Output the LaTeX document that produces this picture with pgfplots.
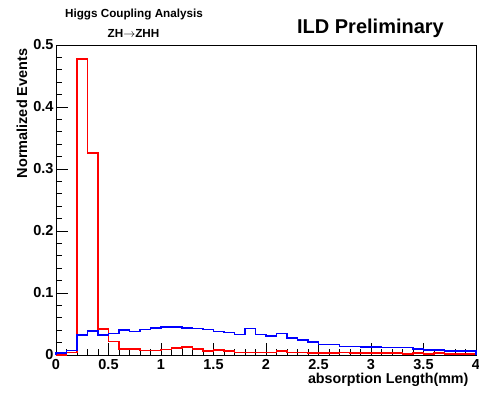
\documentclass[border=0pt]{standalone}
\usepackage{pgfplots}
\pgfplotsset{compat=1.18}
\usepackage{fontspec}
\setmainfont{Liberation Sans}
\begin{document}
\begin{tikzpicture}
\begin{axis}[
  at={(0,0)}, anchor=south west,
  scale only axis, width=420pt, height=310pt,
  xmin=0, xmax=4, ymin=0, ymax=0.5,
  xtick={0,0.5,1,1.5,2,2.5,3,3.5,4},
  xticklabels={\textbf{0},\textbf{0.5},\textbf{1},\textbf{1.5},\textbf{2},\textbf{2.5},\textbf{3},\textbf{3.5},\textbf{4}},
  ytick={0,0.1,0.2,0.3,0.4,0.5},
  yticklabels={\textbf{0},\textbf{0.1},\textbf{0.2},\textbf{0.3},\textbf{0.4},\textbf{0.5}},
  minor x tick num=4, minor y tick num=4,
  tick align=inside, xtick pos=bottom, ytick pos=left,
  major tick length=12pt, minor tick length=6pt,
  tick style={black, line width=0.7pt},
  axis line style={black, line width=0.8pt},
  /pgf/number format/assume math mode=true,
  tick label style={font=\fontsize{14.5}{16}\selectfont},
  xticklabel style={yshift=-1pt},
  yticklabel style={xshift=1pt},
  clip=false,
]
\addplot[const plot mark left, red, line width=1.6pt] coordinates {
(0,0) (0.1,0.004) (0.2,0.477) (0.3,0.326) (0.4,0.042) (0.5,0.022)
(0.6,0.010) (0.7,0.010) (0.8,0.007) (0.9,0.007) (1.0,0.009) (1.1,0.011)
(1.2,0.013) (1.3,0.0095) (1.4,0.006) (1.5,0.0085) (1.6,0.006) (1.7,0.004)
(1.8,0.004) (1.9,0.004) (2.0,0.004) (2.1,0.006) (2.2,0.004) (2.3,0.004)
(2.4,0.003) (2.5,0.003) (2.6,0.003) (2.7,0.004) (2.8,0.003) (2.9,0.003)
(3.0,0.003) (3.1,0.003) (3.2,0.003) (3.3,0.002) (3.4,0.003) (3.5,0.002)
(3.6,0.003) (3.7,0.002) (3.8,0.002) (3.9,0.002) (4.0,0.002) (4.0,0)
};
\addplot[const plot mark left, blue, line width=1.6pt] coordinates {
(0,0) (0,0.003) (0.1,0.007) (0.2,0.032) (0.3,0.039) (0.4,0.032) (0.5,0.035)
(0.6,0.040) (0.7,0.038) (0.8,0.041) (0.9,0.044) (1.0,0.045) (1.1,0.045)
(1.2,0.044) (1.3,0.043) (1.4,0.041) (1.5,0.038) (1.6,0.036) (1.7,0.033)
(1.8,0.043) (1.9,0.033) (2.0,0.031) (2.1,0.035) (2.2,0.027) (2.3,0.024)
(2.4,0.021) (2.5,0.017) (2.6,0.017) (2.7,0.014) (2.8,0.014) (2.9,0.013)
(3.0,0.013) (3.1,0.012) (3.2,0.012) (3.3,0.012) (3.4,0.010) (3.5,0.008)
(3.6,0.008) (3.7,0.006) (3.8,0.006) (3.9,0.006) (4.0,0.006) (4.0,0)
};
\end{axis}
\node[font=\fontsize{11.7}{13}\selectfont\bfseries] at (78pt,340.5pt) {Higgs Coupling Analysis};
\node[font=\fontsize{11.7}{13}\selectfont\bfseries] at (77.5pt,321.5pt) {ZH$\rightarrow$ZHH};
\node[font=\fontsize{20}{22}\selectfont\bfseries] at (314.5pt,327pt) {ILD Preliminary};
\node[font=\fontsize{14.5}{16}\selectfont\bfseries, rotate=90, anchor=east] at (-34pt,310pt) {Normalized Events};
\node[font=\fontsize{14.3}{16}\selectfont\bfseries, anchor=east] at (416pt,-25pt) {absorption Length(mm)};
\pgfresetboundingbox
\path[use as bounding box] (-56pt,-37pt) rectangle (423pt,355pt);
\end{tikzpicture}
\end{document}
